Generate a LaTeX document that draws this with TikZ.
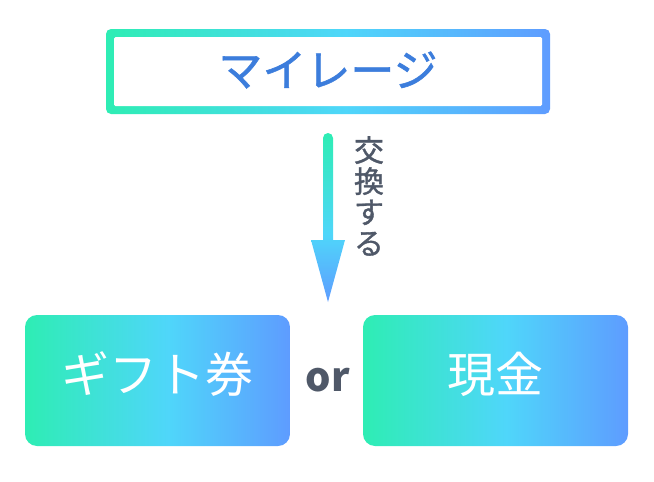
\documentclass[tikz,border=0pt]{standalone}
\usepackage{fontspec}
\setmainfont{Noto Sans CJK JP}
\newfontfamily\jpmedium[FakeBold=1.2]{Noto Sans CJK JP}
\usepackage{tikz}
\usetikzlibrary{
  calc,
  positioning
}
\definecolor{mgreen}{HTML}{2EEDB4}
\definecolor{mcyan}{HTML}{4FD6FA}
\definecolor{mblue}{HTML}{5E9CFF}
\definecolor{mtext}{HTML}{3C7DDC}
\definecolor{mgray}{HTML}{4F5868}
\pgfdeclarehorizontalshading{hgrad}{100bp}{color(0bp)=(mgreen); color(25bp)=(mgreen); color(52bp)=(mcyan); color(75bp)=(mblue); color(100bp)=(mblue)}
\pgfdeclareverticalshading{vgrad}{100bp}{color(0bp)=(mblue); color(25bp)=(mblue); color(45bp)=(mcyan); color(75bp)=(mgreen); color(100bp)=(mgreen)}
\tikzset{
  optbox/.style={rounded corners=12pt, shading=hgrad, minimum width=265pt, minimum height=131pt, text depth=16pt, text=white, font=\fontsize{48}{48}\selectfont}
}

\begin{document}
\begin{tikzpicture}[x=1pt,y=-1pt]
			\useasboundingbox (0,0) rectangle (654,482);

			\node[rounded corners=5pt, shading=hgrad, minimum width=444pt, minimum height=85pt] (milebox) at (328,71.5) {};
			\node[fill=white, rounded corners=1.5pt, minimum width=428pt, minimum height=69pt] (mileinner) at (milebox) {};
			\node[text=mtext, font=\jpmedium\fontsize{44}{44}\selectfont] (mileage) at (328,70) {マイレージ};

			\node[optbox] (gift) at (157.5,380.5) {ギフト券};
			\node[optbox] (cash) at (495.5,380.5) {現金};
			\node[text=mgray, font=\bfseries\fontsize{40}{40}\selectfont] (or) at (328,380) {or};

			\coordinate (arrtop) at (328,138);
			\coordinate (arrtip) at (328,302);
			\shade[shading=vgrad] ($(arrtop)+(-5,0)$) arc[start angle=180, end angle=360, radius=5] -- ($(arrtip)+(5,-62)$) -- ($(arrtip)+(17,-62)$) -- (arrtip) -- ($(arrtip)+(-17,-62)$) -- ($(arrtip)+(-5,-62)$) -- cycle;

			\node[text=mgray, font=\jpmedium\fontsize{30}{31}\selectfont, align=center] (swap) at (369,196) {交\\換\\す\\る};
		\end{tikzpicture}
\end{document}
